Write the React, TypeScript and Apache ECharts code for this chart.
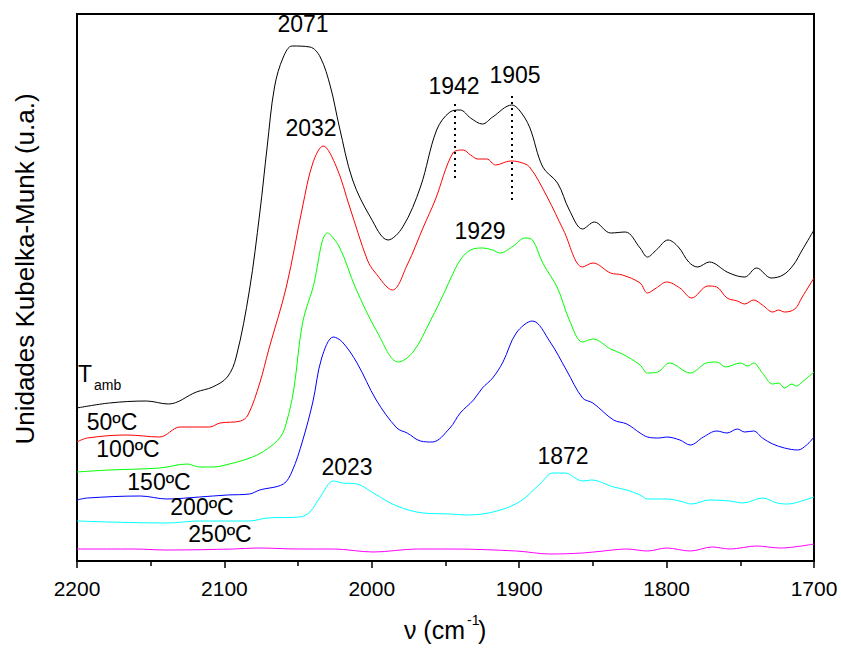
import React, { useEffect, useRef } from "react";
import * as echarts from "echarts";

// wavenumber (cm-1) / Kubelka-Munk intensity (arbitrary units, offset stacked as in the figure)
const tambV = [2200, 2178, 2153, 2138, 2119, 2108, 2098, 2092, 2083, 2076, 2071, 2066, 2060, 2054, 2042, 2035, 2028, 2022, 2013, 2001, 1989, 1979, 1967, 1956, 1947, 1940, 1933, 1925, 1918, 1905, 1900, 1893, 1884, 1874, 1866, 1857, 1849, 1838, 1828, 1818, 1813, 1807, 1799, 1792, 1785, 1779, 1771, 1759, 1752, 1747, 1739, 1729, 1721, 1714, 1708, 1700];
const tambI = [153, 158, 160, 157, 169, 174, 184, 204, 271, 348, 414, 474, 504, 515, 514, 504, 474, 434, 381, 344, 321, 334, 374, 431, 449, 451, 443, 437, 444, 456, 451, 434, 394, 378, 351, 332, 339, 328, 329, 313, 304, 311, 321, 314, 299, 294, 299, 289, 285, 284, 293, 283, 286, 296, 311, 331];

const t50V = [2200, 2193, 2166, 2144, 2130, 2110, 2103, 2089, 2084, 2076, 2070, 2058, 2047, 2040, 2033, 2024, 2015, 2003, 1998, 1986, 1976, 1965, 1957, 1945, 1938, 1933, 1928, 1922, 1916, 1906, 1900, 1893, 1881, 1870, 1857, 1850, 1838, 1830, 1818, 1813, 1807, 1800, 1791, 1783, 1772, 1766, 1759, 1752, 1747, 1741, 1735, 1728, 1724, 1720, 1713, 1708, 1700];
const t50I = [119, 123, 126, 124, 134, 134, 138, 140, 146, 178, 211, 274, 354, 398, 415, 394, 354, 301, 289, 271, 296, 334, 361, 408, 411, 406, 402, 402, 396, 400, 399, 394, 364, 331, 294, 298, 288, 286, 278, 268, 273, 279, 273, 263, 275, 274, 263, 260, 257, 261, 256, 249, 251, 249, 252, 264, 283];

const t100V = [2200, 2178, 2144, 2125, 2117, 2108, 2094, 2081, 2071, 2062, 2058, 2053, 2047, 2040, 2030, 2022, 2011, 1996, 1982, 1972, 1960, 1950, 1947, 1940, 1933, 1925, 1918, 1913, 1904, 1896, 1891, 1884, 1874, 1866, 1857, 1850, 1838, 1830, 1818, 1813, 1806, 1798, 1784, 1773, 1766, 1760, 1750, 1745, 1741, 1735, 1728, 1724, 1720, 1715, 1712, 1708, 1700];
const t100I = [89, 91, 93, 97, 94, 94, 98, 104, 112, 124, 138, 171, 238, 273, 328, 314, 273, 228, 199, 209, 241, 271, 281, 301, 311, 313, 311, 308, 315, 323, 321, 298, 273, 241, 219, 222, 212, 207, 196, 188, 189, 198, 188, 198, 199, 194, 198, 195, 198, 188, 177, 178, 173, 177, 175, 179, 189];

const t150V = [2200, 2193, 2157, 2139, 2117, 2098, 2083, 2076, 2060, 2054, 2047, 2040, 2034, 2026, 2020, 2010, 1997, 1983, 1976, 1967, 1959, 1947, 1940, 1931, 1925, 1918, 1911, 1902, 1891, 1879, 1868, 1857, 1850, 1836, 1827, 1818, 1813, 1805, 1800, 1791, 1784, 1775, 1766, 1759, 1752, 1747, 1741, 1735, 1728, 1720, 1711, 1705, 1700];
const t150I = [61, 63, 65, 62, 64, 66, 67, 71, 77, 90, 120, 159, 203, 224, 219, 198, 161, 133, 128, 120, 119, 133, 148, 161, 173, 183, 199, 228, 240, 219, 191, 163, 158, 141, 137, 128, 124, 123, 124, 121, 116, 124, 130, 128, 132, 129, 130, 123, 117, 113, 111, 116, 124];

const t200V = [2200, 2178, 2139, 2117, 2083, 2071, 2049, 2042, 2035, 2026, 2020, 2010, 1999, 1983, 1965, 1947, 1935, 1915, 1899, 1886, 1877, 1869, 1857, 1851, 1836, 1827, 1818, 1813, 1800, 1791, 1783, 1771, 1757, 1748, 1735, 1725, 1718, 1713, 1700];
const t200I = [40, 39, 38, 40, 40, 43, 44, 49, 64, 80, 78, 77, 68, 55, 48, 47, 46, 50, 60, 77, 88, 88, 80, 81, 74, 71, 66, 62, 62, 60, 57, 61, 60, 58, 63, 58, 57, 58, 64];

const t250V = [2200, 2162, 2139, 2094, 2077, 2049, 2026, 1999, 1969, 1947, 1902, 1879, 1857, 1843, 1827, 1813, 1800, 1784, 1769, 1757, 1739, 1723, 1700];
const t250I = [12, 12, 11, 12, 13, 12, 12, 9, 12, 12, 10, 7, 8, 10, 12, 10, 13, 10, 14, 12, 15, 13, 17];

const seriesNames = ["Tamb", "50ºC", "100ºC", "150ºC", "200ºC", "250ºC"];
const seriesColors = ["#000000", "#ff0000", "#00ff00", "#0000ff", "#00ffff", "#ff00ff"];
const seriesV = [tambV, t50V, t100V, t150V, t200V, t250V];
const seriesI = [tambI, t50I, t100I, t150I, t200I, t250I];

// dotted peak markers: wavenumber, from intensity, to intensity
const markerV = [1944, 1905];
const markerFrom = [383, 361];
const markerTo = [458, 468];

// peak annotations
const peakLabels = ["2071", "2032", "1942", "1905", "1929", "2023", "1872"];
const peakPos = [[303, 24], [311, 128], [454, 86], [515, 75], [480, 231], [347, 467], [563, 456]];

// curve labels
const tempLabels = ["50ºC", "100ºC", "150ºC", "200ºC", "250ºC"];
const tempPos = [[112, 422], [128, 449], [159, 482], [202, 507], [220, 534]];

const xTicks = [1700, 1800, 1900, 2000, 2100, 2200];

export default function App() {
  const ref = useRef<HTMLDivElement>(null);
  useEffect(() => {
    if (!ref.current) return;
    const chart = echarts.init(ref.current, null, { renderer: "svg" });
    const font = "'Liberation Sans', Arial, sans-serif";
    const series: any[] = seriesNames.map((name, k) => ({
      name,
      type: "line",
      data: seriesV[k].map((v, i) => [v, seriesI[k][i]]),
      showSymbol: false,
      smooth: 0.35,
      lineStyle: { color: seriesColors[k], width: 1 },
      itemStyle: { color: seriesColors[k] },
      z: 3,
    }));
    series[0].markLine = {
      silent: true,
      symbol: ["none", "none"],
      label: { show: false },
      lineStyle: { color: "#000", type: [2, 4], width: 2 },
      data: markerV.map((v, i) => [
        { coord: [v, markerFrom[i]] },
        { coord: [v, markerTo[i]] },
      ]),
    };
    const txt = (text: string, x: number, y: number, size: number, align = "center") => ({
      type: "text",
      x,
      y,
      style: { text, fill: "#000", font: `${size}px ${font}`, align, verticalAlign: "middle" },
      z: 10,
    });
    const graphics: any[] = [];
    peakLabels.forEach((t, i) => graphics.push(txt(t, peakPos[i][0], peakPos[i][1], 23)));
    tempLabels.forEach((t, i) => graphics.push(txt(t, tempPos[i][0], tempPos[i][1], 23)));
    graphics.push(txt("T", 85, 374, 23));
    graphics.push(txt("amb", 94, 385, 14, "left"));
    graphics.push(txt("ν (cm", 465, 630, 25, "right"));
    graphics.push(txt("-1", 467, 620, 14, "left"));
    graphics.push(txt(")", 478, 630, 25, "left"));
    graphics.push({
      type: "text",
      x: 25,
      y: 269,
      rotation: Math.PI / 2,
      style: {
        text: "Unidades Kubelka-Munk (u.a.)",
        fill: "#000",
        font: `26px ${font}`,
        align: "center",
        verticalAlign: "middle",
      },
      z: 10,
    });
    chart.setOption({
      animation: false,
      backgroundColor: "#fff",
      grid: {
        left: 77,
        right: 27,
        top: 14,
        bottom: 87,
        show: true,
        borderColor: "#000",
        borderWidth: 2,
        backgroundColor: "transparent",
      },
      xAxis: {
        type: "value",
        inverse: true,
        min: xTicks[0],
        max: xTicks[xTicks.length - 1],
        interval: 100,
        axisLine: { show: true, onZero: false, lineStyle: { color: "#000", width: 2 } },
        axisTick: { show: true, length: 7, lineStyle: { color: "#000", width: 1.5 } },
        minorTick: { show: true, splitNumber: 2, length: 5, lineStyle: { color: "#000", width: 1.5 } },
        axisLabel: {
          color: "#000",
          fontSize: 21,
          fontFamily: font,
          margin: 17,
          formatter: (v: number) => String(v),
        },
        splitLine: { show: false },
      },
      yAxis: {
        type: "value",
        min: 0,
        max: 547,
        axisLine: { show: false },
        axisTick: { show: false },
        axisLabel: { show: false },
        splitLine: { show: false },
      },
      series,
      graphic: graphics,
    });
    return () => chart.dispose();
  }, []);
  return (
    <div
      ref={ref}
      style={{ position: "fixed", left: 0, top: 0, width: 841, height: 648, background: "#fff" }}
    />
  );
}
